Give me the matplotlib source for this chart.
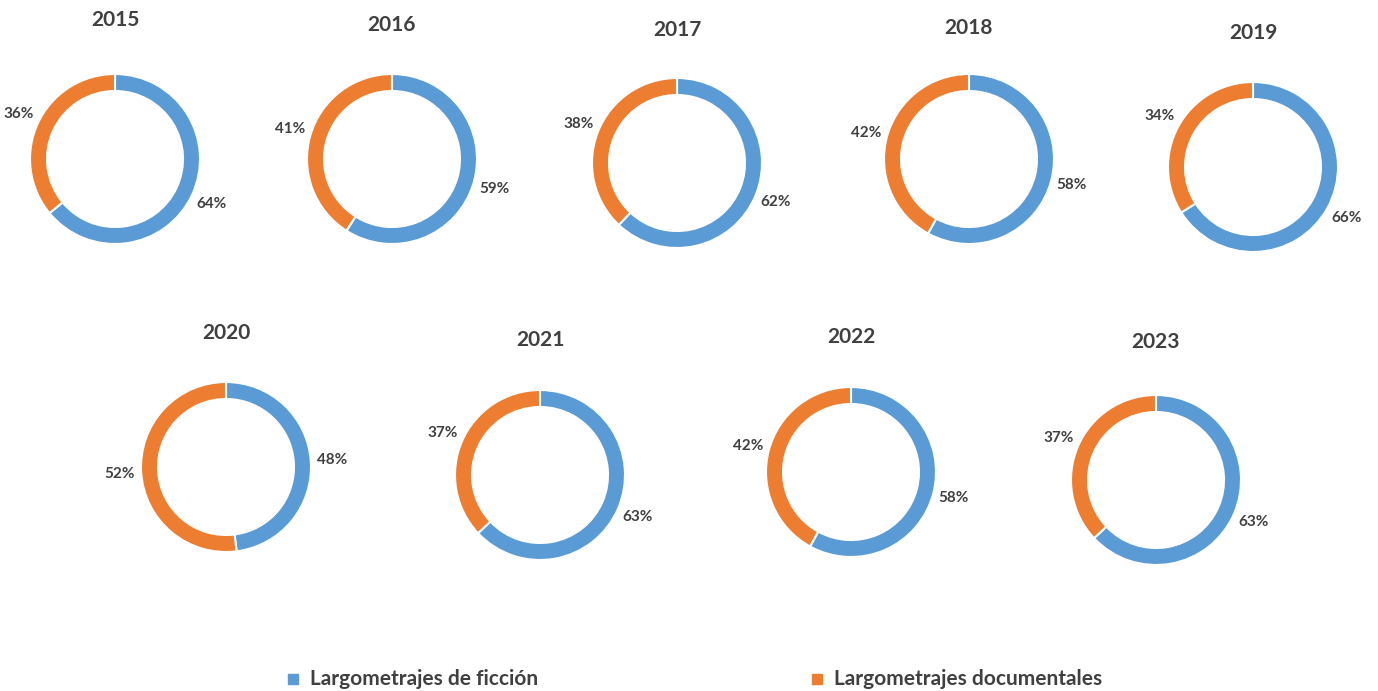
import matplotlib
matplotlib.use("Agg")
import matplotlib.pyplot as plt
from matplotlib.patches import Rectangle

plt.rcParams["font.family"] = ["Lato", "DejaVu Sans"]

years = ["2015", "2016", "2017", "2018", "2019", "2020", "2021", "2022", "2023"]
ficcion = [64, 59, 62, 58, 66, 48, 63, 58, 63]
documental = [36, 41, 38, 42, 34, 52, 37, 42, 37]
series_names = ["Largometrajes de ficción", "Largometrajes documentales"]
colors = ["#5B9BD5", "#ED7D31"]
text_color = "#404040"

# layout in pixels (center x, center y, title y)
W, H = 1378, 691
centers = [(115, 159, 20), (392, 159, 25), (677, 163, 30), (969, 159, 28), (1253, 167, 33),
           (226, 467, 333), (540, 475, 340), (851, 472, 337), (1156, 480, 342)]
R = 85

fig = plt.figure(figsize=(W / 100, H / 100), dpi=100)

for i, yr in enumerate(years):
    cx, cy, ty = centers[i]
    size = 3 * R
    ax = fig.add_axes([(cx - size / 2) / W, 1 - (cy + size / 2) / H, size / W, size / H])
    ax.pie([ficcion[i], documental[i]], colors=colors, startangle=90, counterclock=False,
           radius=1, autopct="%1.0f%%", pctdistance=1.25,
           wedgeprops=dict(width=0.2, edgecolor="white", linewidth=1.5),
           textprops=dict(color=text_color, fontsize=11, fontweight="bold"))
    ax.set_xlim(-1.5, 1.5)
    ax.set_ylim(-1.5, 1.5)
    ax.axis("off")
    fig.text(cx / W, 1 - ty / H, yr, ha="center", va="center", fontsize=15,
             fontweight="bold", color=text_color)

# legend
leg_x = [(293, 310), (817, 834)]
for (mx, tx), name, c in zip(leg_x, series_names, colors):
    fig.patches.append(Rectangle(((mx - 5) / W, 1 - (679 + 5) / H), 10 / W, 10 / H,
                                 transform=fig.transFigure, color=c, figure=fig))
    fig.text(tx / W, 1 - 679 / H, name, ha="left", va="center", fontsize=15,
             fontweight="bold", color=text_color)

fig.savefig("out.png", dpi=100)
